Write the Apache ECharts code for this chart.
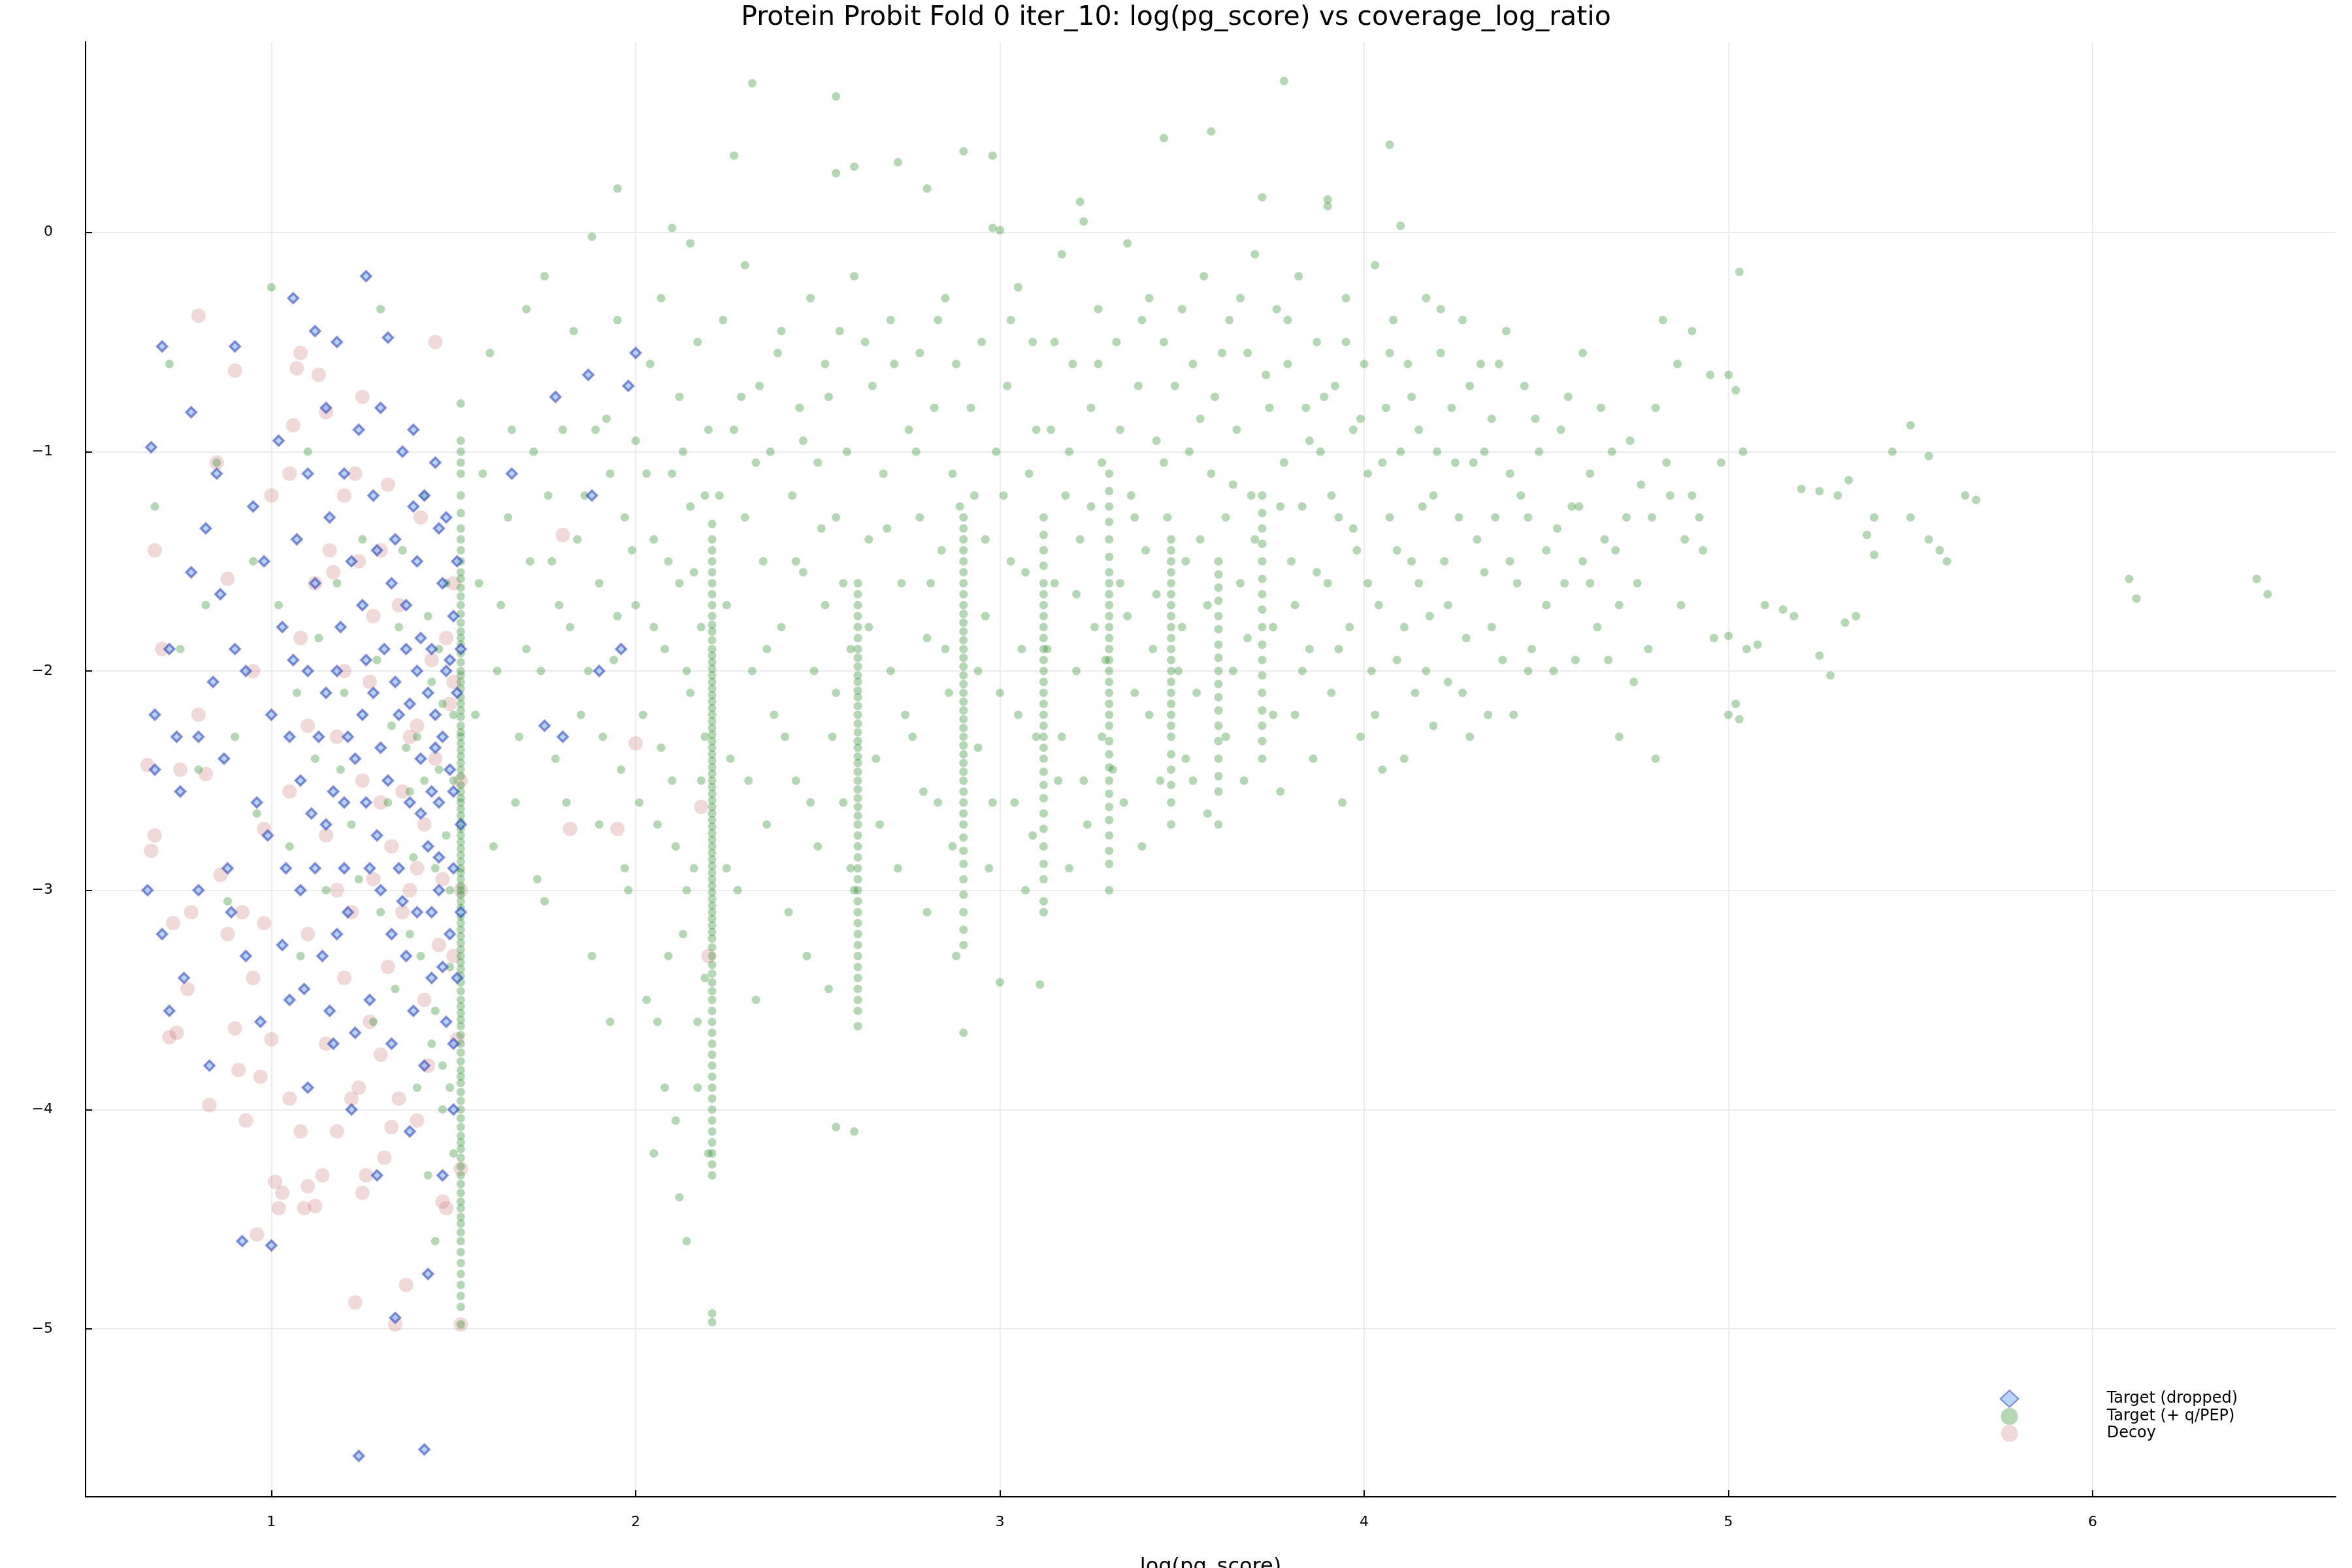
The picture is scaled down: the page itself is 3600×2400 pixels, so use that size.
<!DOCTYPE html>
<html><head><meta charset="utf-8">
<script src="https://cdn.jsdelivr.net/npm/echarts@6/dist/echarts.min.js"></script>
<style>html,body{margin:0;padding:0;background:#fff}#c{width:3600px;height:2400px}</style>
</head><body><div id="c"></div>
<script>
const titleText = "Protein Probit Fold 0 iter_10: log(pg_score) vs coverage_log_ratio";
const xTicks = [1,2,3,4,5,6];
const yTicks = [-5,-4,-3,-2,-1,0];

const dropped = [[0.67,-0.98],[0.68,-2.2],[0.66,-3.0],[0.7,-0.52],[0.72,-1.9],[0.68,-2.45],[0.7,-3.2],[0.72,-3.55],[0.75,-2.55],[0.78,-0.82],[0.78,-1.55],[0.8,-2.3],[0.82,-1.35],[0.8,-3.0],[0.83,-3.8],[0.85,-1.1],[0.86,-1.65],[0.87,-2.4],[0.88,-2.9],[0.9,-0.52],[0.9,-1.9],[0.92,-4.6],[0.93,-3.3],[0.93,-2.0],[0.95,-1.25],[0.96,-2.6],[0.97,-3.6],[0.98,-1.5],[1.0,-4.62],[1.0,-2.2],[1.02,-0.95],[1.03,-1.8],[1.04,-2.9],[1.05,-3.5],[1.06,-0.3],[1.07,-1.4],[1.08,-2.5],[1.08,-3.0],[1.1,-1.1],[1.1,-2.0],[1.1,-3.9],[1.12,-0.45],[1.12,-1.6],[1.13,-2.3],[1.14,-3.3],[1.15,-0.8],[1.15,-2.7],[1.16,-1.3],[1.17,-3.7],[1.18,-0.5],[1.18,-2.0],[1.19,-1.8],[1.2,-2.9],[1.2,-1.1],[1.21,-3.1],[1.22,-1.5],[1.22,-4.0],[1.23,-2.4],[1.24,-0.9],[1.24,-5.58],[1.25,-1.7],[1.26,-0.2],[1.26,-2.6],[1.27,-3.5],[1.28,-1.2],[1.28,-2.1],[1.29,-4.3],[1.3,-0.8],[1.3,-3.0],[1.31,-1.9],[1.32,-2.5],[1.32,-0.48],[1.33,-3.7],[1.34,-1.4],[1.34,-4.95],[1.35,-2.2],[1.35,-2.9],[1.36,-1.0],[1.37,-3.3],[1.37,-1.7],[1.38,-2.6],[1.38,-4.1],[1.39,-0.9],[1.4,-2.0],[1.4,-3.1],[1.4,-1.5],[1.41,-2.4],[1.42,-3.8],[1.42,-1.2],[1.42,-5.55],[1.43,-2.8],[1.43,-4.75],[1.44,-1.9],[1.44,-3.4],[1.45,-1.05],[1.45,-2.2],[1.46,-2.6],[1.46,-3.0],[1.47,-1.6],[1.47,-4.3],[1.48,-2.0],[1.48,-3.6],[1.48,-1.3],[1.49,-2.45],[1.49,-3.2],[1.5,-1.75],[1.5,-2.9],[1.5,-4.0],[1.51,-2.1],[1.51,-1.5],[1.51,-3.4],[1.52,-2.7],[1.52,-1.9],[1.52,-3.1],[1.66,-1.1],[1.75,-2.25],[1.8,-2.3],[1.78,-0.75],[1.87,-0.65],[1.98,-0.7],[1.9,-2.0],[1.88,-1.2],[1.96,-1.9],[2.0,-0.55],[1.33,-1.6],[1.25,-2.2],[1.15,-2.1],[1.05,-2.3],[1.2,-2.6],[1.3,-2.35],[1.45,-2.35],[1.38,-2.15],[1.12,-2.9],[1.27,-2.9],[1.36,-3.05],[1.44,-3.1],[1.18,-3.2],[0.74,-2.3],[0.76,-3.4],[0.84,-2.05],[0.89,-3.1],[0.99,-2.75],[1.03,-3.25],[1.09,-3.45],[1.16,-3.55],[1.23,-3.65],[1.29,-2.75],[1.41,-2.65],[1.46,-2.85],[1.41,-1.85],[1.43,-2.1],[1.47,-2.3],[1.49,-1.95],[1.5,-2.55],[1.46,-1.35],[1.39,-1.25],[1.34,-2.05],[1.26,-1.95],[1.21,-2.3],[1.17,-2.55],[1.11,-2.65],[1.06,-1.95],[1.33,-3.2],[1.39,-3.55],[1.47,-3.35],[1.5,-3.7],[1.44,-2.55],[1.37,-1.9],[1.29,-1.45]];

const decoy = [[0.8,-0.38],[0.66,-2.43],[0.68,-2.75],[0.67,-2.82],[0.68,-1.45],[0.7,-1.9],[0.72,-3.67],[0.74,-3.65],[0.73,-3.15],[0.75,-2.45],[0.78,-3.1],[0.77,-3.45],[0.8,-2.2],[0.82,-2.47],[0.83,-3.98],[0.85,-1.05],[0.86,-2.93],[0.88,-3.2],[0.88,-1.58],[0.9,-0.63],[0.9,-3.63],[0.91,-3.82],[0.92,-3.1],[0.93,-4.05],[0.95,-3.4],[0.96,-4.57],[0.97,-3.85],[0.98,-2.72],[1.0,-3.68],[1.01,-4.33],[1.02,-4.45],[1.03,-4.38],[1.05,-3.95],[1.06,-0.88],[1.07,-0.62],[1.08,-0.55],[1.08,-4.1],[1.09,-4.45],[1.1,-4.35],[1.1,-2.25],[1.12,-4.44],[1.13,-0.65],[1.14,-4.3],[1.15,-0.82],[1.15,-3.7],[1.16,-1.45],[1.17,-1.55],[1.18,-3.0],[1.18,-4.1],[1.2,-3.4],[1.2,-1.2],[1.22,-3.95],[1.23,-1.1],[1.23,-4.88],[1.24,-3.9],[1.25,-0.75],[1.25,-4.38],[1.26,-4.3],[1.27,-3.6],[1.28,-2.95],[1.28,-1.75],[1.3,-1.45],[1.3,-2.6],[1.31,-4.22],[1.32,-3.35],[1.33,-4.08],[1.34,-4.98],[1.35,-1.7],[1.36,-3.1],[1.37,-4.8],[1.38,-2.3],[1.38,-3.0],[1.4,-4.05],[1.4,-2.9],[1.41,-1.3],[1.42,-3.5],[1.43,-3.8],[1.45,-0.5],[1.45,-2.4],[1.46,-3.25],[1.47,-4.42],[1.48,-1.85],[1.48,-4.45],[1.49,-2.15],[1.5,-3.3],[1.51,-3.68],[1.52,-4.27],[1.52,-4.98],[1.52,-2.5],[1.52,-3.0],[1.5,-1.6],[1.82,-2.72],[1.8,-1.38],[1.95,-2.72],[2.0,-2.33],[2.18,-2.62],[2.2,-3.3],[1.05,-1.1],[1.12,-1.6],[1.2,-2.0],[1.25,-2.5],[1.15,-2.75],[1.05,-2.55],[1.22,-3.1],[1.35,-3.95],[1.3,-3.75],[1.42,-2.7],[1.0,-1.2],[0.95,-2.0],[1.08,-1.85],[1.18,-2.3],[1.27,-2.05],[1.33,-2.8],[1.1,-3.2],[0.98,-3.15],[1.44,-1.95],[1.4,-2.25],[1.47,-2.95],[1.5,-2.05],[1.36,-2.55],[1.24,-1.5],[1.32,-1.15]];

// vertical stripes of targets: x position and y values
const stripeX = [1.52, 2.21, 2.61, 2.90, 3.12, 3.30, 3.47, 3.60, 3.72];
const stripeY = [
 [-0.78,-0.95,-1.05,-1.2,-1.35,-1.45,-1.55,-1.62,-1.7,-1.78,-1.85,-1.92,-2.0,-2.05,-2.12,-2.18,-2.25,-2.3,-2.36,-2.42,-2.48,-2.55,-2.6,-2.66,-2.72,-2.78,-2.84,-2.9,-2.95,-3.0,-3.05,-3.12,-3.18,-3.24,-3.3,-3.36,-3.42,-3.5,-3.56,-3.62,-3.7,-3.78,-3.85,-3.92,-4.0,-4.08,-4.15,-4.22,-4.3,-4.38,-4.45,-4.52,-4.6,-4.7,-4.8,-4.9,-4.98],
 [-1.33,-1.45,-1.55,-1.65,-1.75,-1.82,-1.9,-1.96,-2.02,-2.08,-2.14,-2.2,-2.26,-2.32,-2.38,-2.44,-2.5,-2.56,-2.62,-2.68,-2.74,-2.8,-2.86,-2.92,-2.98,-3.04,-3.1,-3.16,-3.22,-3.3,-3.38,-3.46,-3.55,-3.65,-3.75,-3.85,-3.95,-4.05,-4.15,-4.25,-4.3,-4.93,-4.97],
 [-1.6,-1.7,-1.8,-1.9,-1.98,-2.05,-2.12,-2.2,-2.28,-2.35,-2.42,-2.5,-2.58,-2.66,-2.75,-2.85,-2.95,-3.05,-3.15,-3.25,-3.35,-3.45,-3.55,-3.62],
 [-1.3,-1.4,-1.5,-1.6,-1.7,-1.78,-1.86,-1.94,-2.02,-2.1,-2.18,-2.26,-2.34,-2.42,-2.5,-2.6,-2.7,-2.82,-2.95,-3.1,-3.25],
 [-1.3,-1.45,-1.6,-1.7,-1.8,-1.9,-2.0,-2.1,-2.2,-2.3,-2.4,-2.52,-2.65,-2.8,-2.95,-3.05,-3.1],
 [-1.1,-1.25,-1.4,-1.55,-1.65,-1.75,-1.85,-1.95,-2.05,-2.15,-2.25,-2.38,-2.5,-2.62,-2.75,-2.88,-3.0],
 [-1.4,-1.5,-1.6,-1.7,-1.8,-1.9,-2.0,-2.1,-2.2,-2.3,-2.45,-2.6,-2.7],
 [-1.5,-1.62,-1.75,-1.88,-2.0,-2.12,-2.25,-2.4,-2.55,-2.7],
 [-1.2,-1.35,-1.5,-1.65,-1.8,-1.95,-2.1,-2.25,-2.4]
];
const stripeY2 = [
 [-1.0,-1.1,-1.28,-1.4,-1.5,-1.58,-1.66,-1.74,-1.82,-1.88,-1.96,-2.02,-2.08,-2.15,-2.21,-2.28,-2.33,-2.39,-2.45,-2.52,-2.58,-2.63,-2.69,-2.75,-2.81,-2.87,-2.92,-2.98,-3.02,-3.08,-3.15,-3.21,-3.27,-3.33,-3.39,-3.46,-3.53,-3.59,-3.66,-3.74,-3.82,-3.88,-3.96,-4.04,-4.12,-4.18,-4.26,-4.34,-4.42,-4.49,-4.56,-4.65,-4.75,-4.85],
 [-1.4,-1.5,-1.6,-1.7,-1.79,-1.86,-1.93,-1.99,-2.05,-2.11,-2.17,-2.23,-2.29,-2.35,-2.41,-2.47,-2.53,-2.59,-2.65,-2.71,-2.77,-2.83,-2.89,-2.95,-3.01,-3.07,-3.13,-3.19,-3.26,-3.34,-3.42,-3.5,-3.6,-3.7,-3.8,-3.9,-4.0,-4.1,-4.2],
 [-1.65,-1.75,-1.85,-1.94,-2.02,-2.09,-2.16,-2.24,-2.32,-2.39,-2.46,-2.54,-2.62,-2.7,-2.8,-2.9,-3.0,-3.1,-3.2,-3.3,-3.4,-3.5],
 [-1.35,-1.45,-1.55,-1.65,-1.74,-1.82,-1.9,-1.98,-2.06,-2.14,-2.22,-2.3,-2.38,-2.46,-2.55,-2.65,-2.76,-2.88,-3.02,-3.18],
 [-1.38,-1.52,-1.65,-1.75,-1.85,-1.95,-2.05,-2.15,-2.25,-2.35,-2.46,-2.58,-2.72,-2.88],
 [-1.18,-1.32,-1.48,-1.6,-1.7,-1.8,-1.9,-2.0,-2.1,-2.2,-2.32,-2.44,-2.56,-2.68,-2.82],
 [-1.45,-1.55,-1.65,-1.75,-1.85,-1.95,-2.05,-2.15,-2.25,-2.38,-2.52],
 [-1.56,-1.68,-1.81,-1.94,-2.06,-2.18,-2.32,-2.48],
 [-1.28,-1.42,-1.58,-1.72,-1.88,-2.02,-2.18,-2.32]
];

const targetCloud = [[0.68,-1.25],[0.72,-0.6],[0.75,-1.9],[0.8,-2.45],[0.85,-1.05],[0.9,-2.3],[0.95,-1.5],[1.0,-0.25],[1.05,-2.8],[1.1,-1.0],[1.15,-3.0],[1.2,-2.1],[1.25,-1.4],[1.28,-3.6],[1.3,-0.35],[1.32,-2.6],[1.35,-1.8],[1.38,-3.2],[1.4,-2.3],[1.42,-1.2],[1.45,-2.9],[1.47,-3.8],[1.48,-1.6],[1.5,-2.5],[1.5,-4.2],[1.44,-2.05],[1.46,-2.45],[1.49,-3.0],[1.41,-3.3],[1.38,-2.55],[1.36,-1.45],[1.43,-1.75],[1.47,-2.15],[1.45,-3.55],[1.49,-3.9],[1.39,-2.85],[1.33,-2.25],[1.3,-3.1],[1.22,-2.7],[1.18,-1.6],[1.12,-2.4],[1.08,-3.3],[0.96,-2.65],[0.88,-3.05],[0.82,-1.7],
[1.57,-1.6],[1.6,-0.55],[1.62,-2.0],[1.65,-1.3],[1.67,-2.6],[1.7,-0.35],[1.7,-1.9],[1.72,-1.0],[1.73,-2.95],[1.75,-0.2],[1.75,-3.05],[1.77,-1.5],[1.78,-2.4],[1.8,-0.9],[1.82,-1.8],[1.83,-0.45],[1.85,-2.2],[1.86,-1.2],[1.88,-3.3],[1.88,-0.02],[1.9,-1.6],[1.9,-2.7],[1.92,-0.85],[1.93,-3.6],[1.94,-1.95],[1.95,-0.4],[1.96,-2.45],[1.97,-1.3],[1.98,-3.0],[2.0,-1.7],[2.0,-0.95],[2.02,-2.2],[2.03,-3.5],[2.04,-0.6],[2.05,-1.4],[2.06,-2.7],[2.07,-0.3],[2.08,-1.9],[2.08,-3.9],[2.1,-1.1],[2.1,-2.5],[2.11,-4.05],[2.12,-0.75],[2.12,-1.6],[2.13,-3.2],[2.14,-2.0],[2.15,-0.05],[2.15,-1.25],[2.16,-2.9],[2.17,-0.5],[2.17,-3.6],[2.18,-1.8],[2.19,-2.3],[2.2,-0.9],[2.2,-4.2],[2.12,-4.4],[2.05,-4.2],[2.14,-4.6],
[2.24,-0.4],[2.25,-1.7],[2.26,-2.4],[2.27,-0.9],[2.28,-3.0],[2.3,-1.3],[2.3,-0.15],[2.32,-2.0],[2.33,-3.5],[2.34,-0.7],[2.35,-1.5],[2.36,-2.7],[2.37,-1.0],[2.38,-2.2],[2.4,-0.45],[2.4,-1.8],[2.42,-3.1],[2.43,-1.2],[2.44,-2.5],[2.45,-0.8],[2.46,-1.55],[2.47,-3.3],[2.48,-0.3],[2.49,-2.0],[2.5,-1.05],[2.5,-2.8],[2.52,-0.6],[2.52,-1.7],[2.53,-3.45],[2.54,-2.3],[2.55,-4.08],[2.55,-1.3],[2.56,-0.45],[2.57,-2.6],[2.58,-1.0],[2.59,-1.9],[2.6,-0.2],[2.6,-3.0],[2.6,-4.1],[2.64,-1.4],[2.65,-0.7],[2.66,-2.4],[2.68,-1.1],[2.7,-2.0],[2.7,-0.4],[2.72,-2.9],[2.73,-1.6],[2.75,-0.9],[2.76,-2.3],[2.78,-0.55],[2.78,-1.3],[2.8,-3.1],[2.8,-1.85],[2.82,-0.8],[2.83,-2.6],[2.84,-1.45],[2.85,-0.3],[2.86,-2.1],[2.87,-1.1],[2.88,-3.3],[2.88,-0.6],[2.9,-3.65],[2.93,-1.2],[2.94,-2.35],[2.95,-0.5],[2.96,-1.75],[2.97,-2.9],[2.98,0.02],[2.99,-1.0],[3.0,-2.1],[3.0,-3.42],[3.02,-0.7],[3.03,-1.5],[3.04,-2.6],[3.05,-0.25],[3.06,-1.9],[3.07,-3.0],[3.08,-1.1],[3.09,-0.5],[3.1,-2.3],[3.11,-3.43],[3.14,-0.9],[3.15,-1.6],[3.16,-2.5],[3.17,-0.1],[3.18,-1.2],[3.19,-2.9],[3.2,-0.6],[3.21,-2.0],[3.22,-1.4],[3.23,0.05],[3.24,-2.7],[3.25,-0.8],[3.26,-1.8],[3.27,-0.35],[3.28,-2.3],[3.28,-1.05],[3.32,-0.5],[3.33,-1.6],[3.34,-2.6],[3.35,-0.05],[3.36,-1.2],[3.37,-2.1],[3.38,-0.7],[3.39,-2.8],[3.4,-1.45],[3.41,-0.3],[3.42,-1.9],[3.43,-0.95],[3.44,-2.5],[3.45,-0.5],[3.46,-1.3],[3.5,-0.35],[3.5,-1.8],[3.51,-2.4],[3.52,-1.0],[3.53,-0.6],[3.54,-2.1],[3.55,-1.4],[3.56,-0.2],[3.57,-2.65],[3.58,-1.1],[3.59,-0.75],[3.62,-1.3],[3.63,-0.4],[3.64,-2.0],[3.65,-0.9],[3.66,-1.6],[3.67,-2.5],[3.68,-0.55],[3.69,-1.2],[3.7,-0.1],[3.74,-0.8],[3.75,-1.8],[3.76,-0.35],[3.77,-2.55],[3.78,-1.05],[3.79,-0.6],[3.8,-1.5],[3.81,-2.2],[3.82,-0.2],[3.83,-1.25],[3.84,-0.8],[3.85,-1.9],[3.86,-2.4],[3.87,-0.5],[3.88,-1.0],[3.9,-1.6],[3.9,0.12],[3.91,-2.1],[3.92,-0.7],[3.93,-1.3],[3.94,-2.6],[3.95,-0.3],[3.96,-1.8],[3.97,-0.9],[3.98,-1.45],[3.99,-2.3],[4.0,-0.6],[4.01,-1.1],[4.02,-2.0],[4.03,-0.15],[4.04,-1.7],[4.05,-2.45],[4.06,-0.8],[4.07,-1.3],[4.08,-0.4],[4.09,-1.95],[4.1,-1.0],[4.11,-2.4],[4.12,-0.6],[4.13,-1.5],[4.14,-2.1],[4.15,-0.9],[4.16,-1.25],[4.17,-0.3],[4.18,-1.75],[4.19,-2.25],[4.2,-1.0],[4.21,-0.55],[4.22,-1.5],[4.23,-2.05],[4.24,-0.8],[4.26,-1.3],[4.27,-0.4],[4.28,-1.85],[4.29,-2.3],[4.3,-1.05],[4.32,-0.6],[4.33,-1.55],[4.34,-2.2],[4.35,-0.85],[4.36,-1.3],[4.38,-1.95],[4.39,-0.45],[4.4,-1.1],[4.41,-2.2],[4.42,-1.6],[4.44,-0.7],[4.45,-1.3],[4.46,-1.9],[4.48,-1.0],[4.5,-1.45],[4.52,-2.0],[4.54,-0.9],[4.55,-1.6],[4.57,-1.25],[4.58,-1.95],[4.6,-1.5],[4.6,-0.55],[4.62,-1.1],[4.64,-1.8],[4.66,-1.4],[4.68,-1.0],[4.7,-1.7],[4.7,-2.3],[4.72,-1.3],[4.74,-2.05],[4.76,-1.15],[4.78,-1.9],[4.8,-0.8],[4.8,-2.4],[4.82,-0.4],[4.84,-1.2],[4.86,-0.6],[4.88,-1.4],[4.9,-1.2],[4.93,-1.45],[4.96,-1.85],[4.98,-1.05],
[2.32,0.68],[2.55,0.62],[3.78,0.69],[3.58,0.46],[4.07,0.4],[2.27,0.35],[1.95,0.2],[2.72,0.32],[2.9,0.37],[2.98,0.35],[3.45,0.43],[2.8,0.2],[2.6,0.3],[2.55,0.27],[2.1,0.02],[3.0,0.01],[3.22,0.14],[3.72,0.16],[3.9,0.15],[4.1,0.03],
[5.45,-1.0],[5.5,-0.88],[5.55,-1.02],[5.4,-1.3],[5.5,-1.3],[5.58,-1.45],[5.65,-1.2],[5.68,-1.22],[5.38,-1.38],[5.4,-1.47],[5.3,-1.2],[5.33,-1.13],[5.25,-1.18],[5.2,-1.17],[5.35,-1.75],[5.32,-1.78],[5.25,-1.93],[5.28,-2.02],[5.18,-1.75],[5.15,-1.72],[5.1,-1.7],[5.08,-1.88],[5.0,-1.84],[5.05,-1.9],[5.02,-2.15],[5.0,-2.2],[5.03,-2.22],[5.02,-0.72],[5.0,-0.65],[5.03,-0.18],[4.95,-0.65],[5.04,-1.0],[6.1,-1.58],[6.12,-1.67],[6.45,-1.58],[6.48,-1.65],[5.6,-1.5],[5.55,-1.4],
[2.23,-1.2],[2.25,-2.9],[2.29,-0.75],[2.31,-2.5],[2.33,-1.05],[2.36,-1.9],[2.39,-0.55],[2.41,-2.3],[2.44,-1.5],[2.46,-0.95],[2.48,-2.6],[2.51,-1.35],[2.53,-0.75],[2.55,-2.1],[2.57,-1.6],[2.59,-2.9],[2.63,-0.5],[2.64,-1.8],[2.67,-2.7],[2.69,-1.35],[2.71,-0.6],[2.74,-2.2],[2.77,-1.0],[2.79,-2.55],[2.81,-1.6],[2.83,-0.4],[2.85,-1.9],[2.87,-2.8],[2.89,-1.25],[2.92,-0.8],[2.94,-2.0],[2.96,-1.4],[2.98,-2.6],[3.01,-1.2],[3.03,-0.4],[3.05,-2.2],[3.07,-1.55],[3.09,-2.75],[3.1,-0.9],[3.13,-1.9],[3.15,-0.5],[3.17,-2.3],[3.19,-1.0],[3.21,-1.65],[3.23,-2.5],[3.25,-1.25],[3.27,-0.6],[3.29,-1.95],[3.31,-2.45],[3.33,-0.9],[3.35,-1.75],[3.37,-1.3],[3.39,-0.4],[3.41,-2.2],[3.43,-1.65],[3.45,-1.05],[3.48,-0.7],[3.49,-2.0],[3.51,-1.5],[3.53,-2.5],[3.55,-0.85],[3.57,-1.7],[3.61,-0.55],[3.62,-2.3],[3.64,-1.15],[3.66,-0.3],[3.68,-1.85],[3.7,-1.4],[3.73,-0.65],[3.75,-2.2],[3.77,-1.25],[3.79,-0.4],[3.81,-1.7],[3.83,-2.0],[3.85,-0.95],[3.87,-1.55],[3.89,-0.75],[3.91,-1.2],[3.93,-1.9],[3.95,-0.5],[3.97,-1.35],[3.99,-0.85],[4.01,-1.6],[4.03,-2.2],[4.05,-1.05],[4.07,-0.55],[4.09,-1.45],[4.11,-1.8],[4.13,-0.75],[4.15,-1.6],[4.17,-2.0],[4.19,-1.2],[4.21,-0.35],[4.23,-1.7],[4.25,-1.05],[4.27,-2.1],[4.29,-0.7],[4.31,-1.4],[4.33,-1.0],[4.35,-1.8],[4.37,-0.6],[4.4,-1.5],[4.43,-1.2],[4.45,-2.0],[4.47,-0.85],[4.5,-1.7],[4.53,-1.35],[4.56,-0.75],[4.59,-1.25],[4.62,-1.6],[4.65,-0.8],[4.67,-1.95],[4.69,-1.45],[4.73,-0.95],[4.75,-1.6],[4.79,-1.3],[4.83,-1.05],[4.87,-1.7],[4.9,-0.45],[4.92,-1.3],
[1.56,-2.2],[1.58,-1.1],[1.61,-2.8],[1.63,-1.7],[1.66,-0.9],[1.68,-2.3],[1.71,-1.5],[1.74,-2.0],[1.76,-1.2],[1.79,-1.7],[1.81,-2.6],[1.84,-1.4],[1.87,-2.0],[1.89,-0.9],[1.91,-2.3],[1.93,-1.1],[1.95,-1.75],[1.97,-2.9],[1.99,-1.45],[2.01,-2.6],[2.03,-1.1],[2.05,-1.8],[2.07,-2.35],[2.09,-1.5],[2.11,-2.8],[2.13,-1.0],[2.15,-2.1],[2.16,-1.55],[2.18,-2.5],[2.19,-1.2],[2.09,-3.3],[2.14,-3.0],[2.17,-3.9],[2.06,-3.6],[2.19,-3.4],
[1.02,-1.7],[1.07,-2.1],[1.13,-1.85],[1.19,-2.45],[1.24,-2.95],[1.29,-1.95],[1.34,-3.45],[1.37,-2.35],[1.42,-2.5],[1.44,-3.7],[1.46,-1.9],[1.48,-2.75],[1.49,-3.35],[1.5,-2.2],[1.47,-4.0],[1.43,-4.3],[1.4,-3.9],[1.45,-4.6]];

const greenData = targetCloud.slice();
stripeX.forEach((x, i) => {
  stripeY[i].forEach(y => greenData.push([x, y]));
  stripeY2[i].forEach(y => greenData.push([x, y]));
});

const chart = echarts.init(document.getElementById('c'));
const font = 'DejaVu Sans';
chart.setOption({
  backgroundColor: '#fff',
  animation: false,
  title: { text: titleText, left: 'center', top: 2, textStyle: { fontFamily: font, fontSize: 41, fontWeight: 'normal', color: '#000' } },
  grid: { left: 131, right: 25, top: 64, bottom: 109, outerBoundsMode: 'none', containLabel: false },
  xAxis: {
    type: 'value', min: 0.49, max: 6.667,
    name: 'log(pg_score)', nameLocation: 'middle', nameGap: 92,
    nameTextStyle: { fontFamily: font, fontSize: 32, color: '#000' },
    axisLine: { show: true, onZero: false, lineStyle: { color: '#000', width: 2 } },
    axisTick: { show: true, inside: true, length: 10, customValues: xTicks, lineStyle: { color: '#000', width: 2 } },
    axisLabel: { customValues: xTicks, fontFamily: font, fontSize: 22, color: '#000', margin: 28 },
    splitLine: { show: true, lineStyle: { color: '#ececec', width: 2 } }
  },
  yAxis: {
    type: 'value', min: -5.766, max: 0.869,
    axisLine: { show: true, onZero: false, lineStyle: { color: '#000', width: 2 } },
    axisTick: { show: true, inside: true, length: 10, customValues: yTicks, lineStyle: { color: '#000', width: 2 } },
    axisLabel: { customValues: yTicks, fontFamily: font, fontSize: 22, color: '#000', margin: 50,
      formatter: v => String(v).replace('-', '\u2212') },
    splitLine: { show: true, lineStyle: { color: '#ececec', width: 2 } }
  },
  legend: {
    orient: 'vertical', right: 170, bottom: 188, itemGap: 0, itemWidth: 28, itemHeight: 26,
    textStyle: { fontFamily: font, fontSize: 24, color: '#000', padding: [0, 0, 0, 130] },
    data: ['Target (dropped)', 'Target (+ q/PEP)', 'Decoy']
  },
  series: [
    { name: 'Target (dropped)', type: 'scatter', symbol: 'diamond', symbolSize: 15, data: dropped, z: 3,
      itemStyle: { color: 'rgba(110,170,255,0.5)', borderColor: 'rgba(20,40,180,0.5)', borderWidth: 3.5, opacity: 1 } },
    { name: 'Target (+ q/PEP)', type: 'scatter', symbol: 'circle', symbolSize: 13, data: greenData, z: 2,
      itemStyle: { color: 'rgba(34,139,34,0.42)' } },
    { name: 'Decoy', type: 'scatter', symbol: 'circle', symbolSize: 22, data: decoy, z: 1,
      itemStyle: { color: 'rgba(200,110,110,0.33)' } }
  ]
});
</script></body></html>
